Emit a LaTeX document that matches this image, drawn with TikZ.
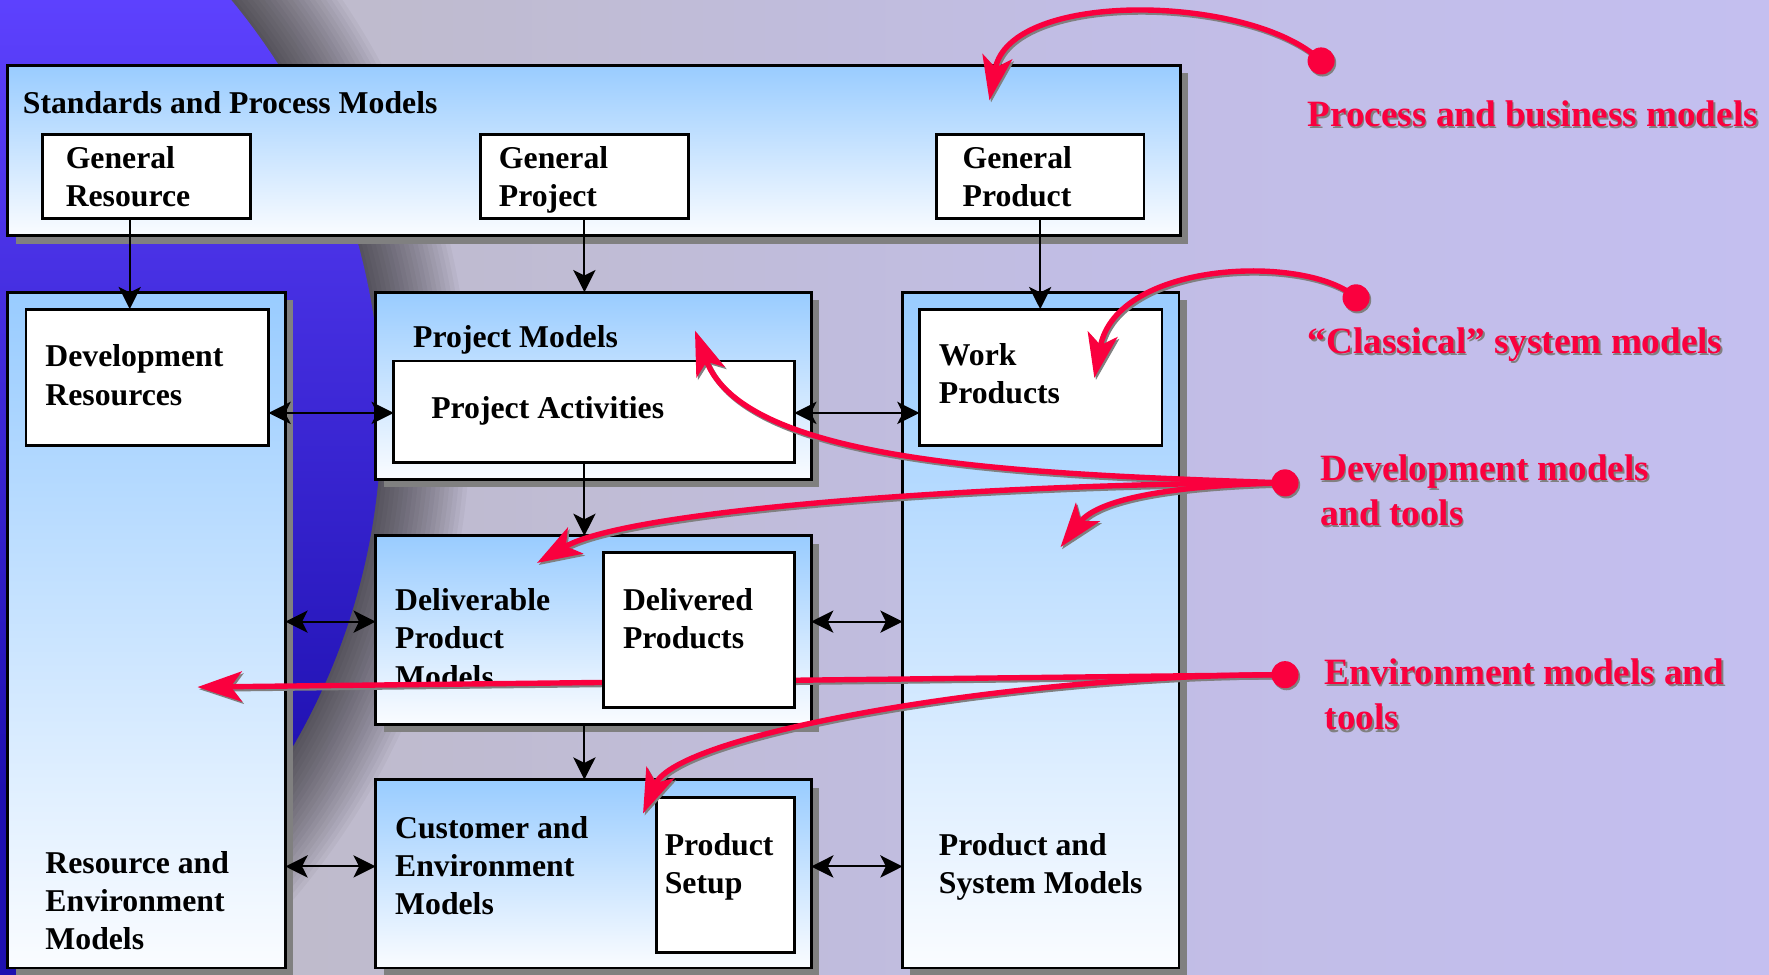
\documentclass[tikz,border=0pt]{standalone}
\usepackage{fontspec}
\setmainfont{Liberation Serif}
\usetikzlibrary{arrows.meta,shadows,fit}

\definecolor{boxtop}{HTML}{99CCFF}
\definecolor{boxbot}{HTML}{FAFCFF}
\definecolor{dropgray}{HTML}{808080}
\definecolor{accent}{HTML}{FA003E}
\definecolor{bgA}{HTML}{BEBAC2}
\definecolor{bgB}{HTML}{C1BDE4}
\definecolor{bgC}{HTML}{C7C1FF}
\definecolor{orbTop}{HTML}{5E42FF}
\definecolor{orbMid}{HTML}{3020FF}
\definecolor{orbBot}{HTML}{1E10B0}

\pgfdeclarehorizontalshading{backdrop}{100bp}{color(0bp)=(bgA); color(25bp)=(bgA); color(55bp)=(bgB); color(100bp)=(bgC)}

% red label text with a soft grey drop shadow
\newcommand\shadowed[1]{\makebox[0pt][l]{\hspace{1pt}\raisebox{-1.3pt}{\textcolor{dropgray}{#1}}}#1}

\begin{document}
\begin{tikzpicture}[x=0.025cm, y=-0.025cm,
  panel/.style={draw=black, line width=1.8pt, inner sep=0pt, outer sep=0pt,
    top color=boxtop, bottom color=boxbot,
    drop shadow={shadow xshift=5pt, shadow yshift=-5pt, opacity=1, fill=dropgray}},
  card/.style={draw=black, line width=1.8pt, fill=white, inner sep=0pt, outer sep=0pt},
  lbl/.style={anchor=base west, inner sep=0pt, align=left,
    font=\bfseries\fontsize{20}{24.2}\selectfont},
  note/.style={anchor=base west, inner sep=0pt, align=left, text=accent,
    font=\bfseries\fontsize{23.4}{28.5}\selectfont},
  conn/.style={line width=1.3pt, -{Stealth[length=14pt,width=14pt,inset=3.5pt]}},
  twoway/.style={line width=1.3pt,
    {Stealth[length=14pt,width=14pt,inset=3.5pt]}-{Stealth[length=14pt,width=14pt,inset=3.5pt]}},
  redline/.style={draw=accent, line width=3.4pt, -{Stealth[length=28pt,width=19pt,inset=7pt]}},
  redshadow/.style={redline, draw=dropgray, transform canvas={xshift=1pt,yshift=-1.3pt}},
  hub/.style={circle, fill=accent, minimum size=0.6cm, inner sep=0pt,
    drop shadow={shadow xshift=1pt, shadow yshift=-1.3pt, opacity=1, fill=dropgray}}
]
\useasboundingbox (0,0) rectangle (1568,864);
\clip (0,0) rectangle (1568,864);

% backdrop with a large blue globe and its grey halo
\shade[shading=backdrop] (0,0) rectangle (1568,864);
\foreach \r in {584,588,...,660}
  \fill[black, opacity=0.034] (-243,370) circle (\r);
\begin{scope}
  \clip (-243,370) circle (581);
  \shade[top color=orbTop, middle color=orbMid, bottom color=orbBot] (-10,-10) rectangle (400,700);
  \fill[orbBot] (-10,699) rectangle (400,900);
\end{scope}

% model panels
\node[panel, fit={(7,58) (1046,209)}] (std) {};
\node[panel, fit={(7,259) (253,858)}] (leftcol) {};
\node[panel, fit={(333,259) (719,425)}] (projmod) {};
\node[panel, fit={(333,475) (719,642)}] (deliv) {};
\node[panel, fit={(333,691) (719,858)}] (cust) {};
\node[panel, fit={(800,259) (1045,858)}] (rightcol) {};

% white cards
\node[card, fit={(38,119) (222,194)}] (genres) {};
\node[card, fit={(426,119) (610,194)}] (genproj) {};
\node[card, fit={(830,119) (1014,194)}] (genprod) {};
\node[card, fit={(23,274) (238,395)}] (devres) {};
\node[card, fit={(349,320) (704,410)}] (projact) {};
\node[card, fit={(815,274) (1030,395)}] (workprod) {};
\node[card, fit={(582,707) (704,844)}] (setup) {};

% labels (anchored at the baseline of their last line)
\node[lbl] (tStd) at (20,101) {Standards and Process Models};
\node[lbl] (tGenRes) at (58,183) {General\\Resource};
\node[lbl] (tGenProj) at (442,183) {General\\Project};
\node[lbl] (tGenProd) at (853,183) {General\\Product};
\node[lbl] (tDevRes) at (40,359) {Development\\Resources};
\node[lbl] (tResEnv) at (40,842) {Resource and\\Environment\\Models};
\node[lbl] (tProjMod) at (366,308) {Project Models};
\node[lbl] (tProjAct) at (382,371) {Project Activities};
\node[lbl] (tWork) at (832,358) {Work\\Products};
\node[lbl] (tDelivM) at (350,609) {Deliverable\\Product\\Models};
\node[lbl] (tCust) at (350,811) {Customer and\\Environment\\Models};
\node[lbl] (tSetup) at (589,792) {Product\\Setup};
\node[lbl] (tProdSys) at (832,792) {Product and\\System Models};

% guide lines for the connectors
\coordinate (ax1) at (115,0);
\coordinate (spine) at (518,0);
\coordinate (row1) at (0,366);
\coordinate (row2) at (0,551);
\coordinate (row3) at (0,768);

% black connectors
\draw[conn] (genres.south -| ax1) -- (devres.north -| ax1);
\draw[conn] (genproj.south -| spine) -- (projmod.north -| spine);
\draw[conn] (genprod.south) -- (workprod.north -| genprod.south);
\draw[conn] (projact.south -| spine) -- (deliv.north -| spine);
\draw[conn] (deliv.south -| spine) -- (cust.north -| spine);
\draw[twoway] (devres.east |- row1) -- (projact.west |- row1);
\draw[twoway] (projact.east |- row1) -- (workprod.west |- row1);
\draw[twoway] (leftcol.east |- row2) -- (deliv.west |- row2);
\draw[twoway] (deliv.east |- row2) -- (rightcol.west |- row2);
\draw[twoway] (leftcol.east |- row3) -- (cust.west |- row3);
\draw[twoway] (cust.east |- row3) -- (rightcol.west |- row3);

% red pointers
\coordinate (hubA) at (1171,54);
\coordinate (hubB) at (1202,264);
\coordinate (hubC) at (1139,428);
\coordinate (hubD) at (1139,598);
\coordinate (tipA) at (877,89);
\coordinate (tipB) at (970,335);
\coordinate (tipC1) at (616,293);
\coordinate (tipC2) at (476,499);
\coordinate (tipC3) at (940,485);
\coordinate (tipD1) at (175,609);
\coordinate (tipD2) at (570,721);

\foreach \s in {redshadow,redline}{
  \draw[\s] (hubA) .. controls (1110,-5) and (895,-10) .. (tipA);
  \draw[\s] (hubB) .. controls (1160,225) and (990,230) .. (tipB);
  \draw[\s] (hubC) .. controls (900,420) and (660,410) .. (tipC1);
  \draw[\s] (hubC) .. controls (900,428) and (560,450) .. (tipC2);
  \draw[\s] (hubC) .. controls (1050,430) and (975,440) .. (tipC3);
  \draw[\s] (hubD) -- (tipD1);
  \draw[\s] (hubD) .. controls (900,598) and (600,650) .. (tipD2);
}

% delivered products card sits above the environment pointer
\node[card, fit={(535,490) (704,627)}] (delivp) {};
\node[lbl] (tDelivP) at (552,575) {Delivered\\Products};

% pointer origins and captions
\node[hub] (dotA) at (hubA) {};
\node[hub] (dotB) at (hubB) {};
\node[hub] (dotC) at (hubC) {};
\node[hub] (dotD) at (hubD) {};

\node[note] (nA) at (1159,112) {\shadowed{Process and business models}};
\node[note] (nB) at (1159,313) {\shadowed{“Classical” system models}};
\node[note] (nC) at (1170,466) {\shadowed{Development models}\\\shadowed{and tools}};
\node[note] (nD) at (1174,647) {\shadowed{Environment models and}\\\shadowed{tools}};
\end{tikzpicture}
\end{document}
